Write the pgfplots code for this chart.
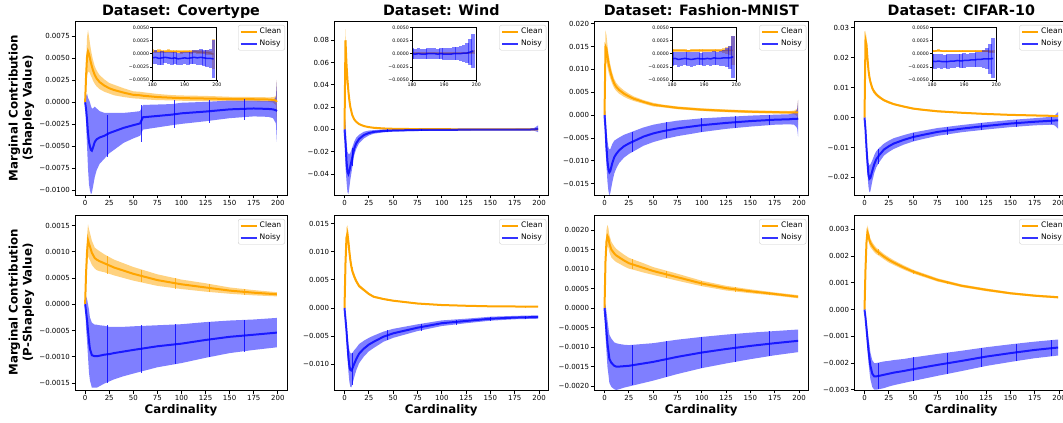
\documentclass[border=0pt]{standalone}
\usepackage{fontspec}
\setmainfont{DejaVu Sans}
\usepackage{pgfplots}
\usepackage{pgfplotstable}
\pgfplotsset{compat=1.18}
\usepgfplotslibrary{fillbetween}

\definecolor{corange}{HTML}{FFA500}
\definecolor{cblue}{HTML}{0000FF}

\newcommand{\tickfont}{\fontsize{7}{8}\selectfont}
\newcommand{\insfont}{\fontsize{4.7}{5.5}\selectfont}
\newcommand{\legfont}{\fontsize{7.6}{9}\selectfont}
\newcommand{\labfont}{\fontsize{11.8}{14}\selectfont\bfseries}
\newcommand{\titfont}{\fontsize{14.3}{16}\selectfont\bfseries}

% x  clean mean / err   noisy mean / err
\pgfplotstableread{
x cm ce nm ne
0 0 0 0 0
1 0.0030 0.0015 -0.0008 0.0015
2 0.0052 0.0022 -0.0020 0.0030
3 0.0058 0.0024 -0.0035 0.0040
4 0.0055 0.0020 -0.0045 0.0048
5 0.0050 0.0017 -0.0050 0.0050
6 0.0045 0.0015 -0.0054 0.0050
7 0.0041 0.0013 -0.0055 0.0048
8 0.0037 0.0012 -0.0052 0.0045
10 0.0031 0.0010 -0.0045 0.0040
12 0.0027 0.0009 -0.0042 0.0035
15 0.0023 0.0008 -0.0040 0.0030
20 0.0019 0.0007 -0.0038 0.0026
25 0.0016 0.0006 -0.0035 0.0023
30 0.0014 0.0006 -0.0033 0.0021
40 0.0011 0.0005 -0.0029 0.0017
50 0.00085 0.0004 -0.0026 0.0015
57 0.0008 0.0004 -0.0024 0.0014
60 0.00075 0.0004 -0.0017 0.0014
75 0.0006 0.00035 -0.00155 0.0013
90 0.00052 0.0003 -0.0014 0.0012
100 0.00048 0.0003 -0.00125 0.0012
125 0.00043 0.0003 -0.00105 0.0011
150 0.00038 0.00025 -0.0008 0.0010
175 0.00035 0.00025 -0.0007 0.0009
190 0.00032 0.00025 -0.00075 0.0009
195 0.00028 0.0003 -0.0008 0.0010
198 0.0002 0.0005 -0.0009 0.0015
199 0.00005 0.0025 -0.0010 0.0035
}\tCa

\pgfplotstableread{
x cm ce nm ne
180 0.0005 0.0003 -0.0008 0.0012
181 0.0004 0.0003 -0.0007 0.0013
182 0.0005 0.0003 -0.0009 0.0012
183 0.0004 0.0003 -0.0008 0.0013
184 0.0004 0.0002 -0.0007 0.0011
185 0.0005 0.0003 -0.0008 0.0012
186 0.0004 0.0003 -0.0009 0.0013
187 0.0004 0.0002 -0.0008 0.0012
188 0.0004 0.0003 -0.0010 0.0012
189 0.0003 0.0003 -0.0009 0.0013
190 0.0004 0.0003 -0.0008 0.0012
191 0.0004 0.0003 -0.0009 0.0013
192 0.0003 0.0003 -0.0008 0.0012
193 0.0004 0.0003 -0.0007 0.0013
194 0.0003 0.0003 -0.0008 0.0014
195 0.0003 0.0004 -0.0007 0.0015
196 0.0002 0.0003 -0.0008 0.0015
197 0.0002 0.0004 -0.0009 0.0016
198 0.0001 0.0004 -0.0009 0.0018
199 -0.0001 0.0028 -0.0010 0.0036
}\tCai

\pgfplotstableread{
x cm ce nm ne
0 0 0 0 0
1 0.080 0.010 -0.012 0.021
2 0.059 0.006 -0.028 0.018
3 0.045 0.004 -0.038 0.018
4 0.034 0.003 -0.040 0.018
5 0.026 0.002 -0.037 0.015
6 0.020 0.0015 -0.033 0.012
8 0.0128 0.001 -0.025 0.009
10 0.0090 0.0008 -0.017 0.006
12 0.0069 0.0006 -0.0125 0.005
15 0.0048 0.0005 -0.0085 0.0038
20 0.0030 0.0004 -0.0050 0.003
25 0.0021 0.0003 -0.0032 0.0022
30 0.0015 0.0003 -0.0022 0.0016
40 0.0009 0.0002 -0.0013 0.0013
50 0.0006 0.0002 -0.0009 0.0011
75 0.0003 0.0002 -0.0005 0.0008
100 0.0002 0.0002 -0.0003 0.0007
150 0.0001 0.0001 -0.0002 0.0007
190 0.0001 0.0001 -0.0001 0.0008
195 0.0001 0.0001 0.0001 0.0012
199 0.0001 0.0002 0.0006 0.0030
}\tWa

\pgfplotstableread{
x cm ce nm ne
180 0.0001 0.0001 0.0000 0.0010
181 0.0001 0.0001 -0.0001 0.0010
182 0.0001 0.0001 0.0000 0.0010
183 0.0001 0.0001 -0.0001 0.0010
184 0.0001 0.0001 -0.0001 0.0009
185 0.0001 0.0001 0.0000 0.0010
186 0.0001 0.0001 0.0000 0.0011
187 0.0001 0.0001 0.0000 0.0010
188 0.0001 0.0001 -0.0001 0.0010
189 0.0001 0.0001 0.0000 0.0011
190 0.0001 0.0001 -0.0001 0.0012
191 0.0001 0.0001 -0.0001 0.0011
192 0.0001 0.0001 -0.0001 0.0012
193 0.0001 0.0001 0.0000 0.0012
194 0.0001 0.0001 0.0000 0.0013
195 0.0001 0.0001 0.0000 0.0014
196 0.0001 0.0001 0.0001 0.0016
197 0.0001 0.0001 0.0001 0.0019
198 0.0002 0.0002 0.0003 0.0025
199 0.0003 0.0003 0.0005 0.0032
}\tWai

\pgfplotstableread{
x cm ce nm ne
0 0 0 0 0
1 0.0150 0.0035 -0.0030 0.0040
2 0.0145 0.0030 -0.0070 0.0040
3 0.0130 0.0025 -0.0100 0.0045
4 0.0115 0.0020 -0.0118 0.0048
5 0.0105 0.0018 -0.0125 0.0050
6 0.0095 0.0015 -0.0122 0.0048
8 0.0080 0.0012 -0.0105 0.0042
10 0.0069 0.0010 -0.0092 0.0036
12 0.0062 0.0009 -0.0085 0.0032
15 0.0055 0.0008 -0.0077 0.0028
20 0.0047 0.0007 -0.0068 0.0025
25 0.0041 0.0006 -0.0062 0.0023
30 0.0036 0.0005 -0.0057 0.0022
40 0.0029 0.0004 -0.0047 0.0020
50 0.0023 0.0004 -0.0040 0.0019
60 0.0020 0.0003 -0.0035 0.0018
75 0.0016 0.0003 -0.0029 0.0017
100 0.0012 0.0003 -0.0022 0.0015
125 0.00095 0.0003 -0.0017 0.0013
150 0.00075 0.0003 -0.0013 0.0012
175 0.00065 0.0003 -0.0010 0.0011
190 0.0006 0.0003 -0.0009 0.0011
195 0.0006 0.0004 -0.0008 0.0013
198 0.0006 0.0008 -0.0008 0.0020
199 0.0006 0.0028 -0.0007 0.0040
}\tFa

\pgfplotstableread{
x cm ce nm ne
180 0.0006 0.0002 -0.0010 0.0013
181 0.0006 0.0002 -0.0009 0.0013
182 0.0006 0.0002 -0.0011 0.0014
183 0.0006 0.0002 -0.0010 0.0013
184 0.0006 0.0002 -0.0009 0.0012
185 0.0005 0.0002 -0.0010 0.0013
186 0.0006 0.0002 -0.0011 0.0014
187 0.0006 0.0002 -0.0010 0.0013
188 0.0006 0.0002 -0.0009 0.0013
189 0.0006 0.0002 -0.0010 0.0012
190 0.0006 0.0002 -0.0010 0.0013
191 0.0006 0.0002 -0.0009 0.0013
192 0.0006 0.0002 -0.0010 0.0014
193 0.0006 0.0003 -0.0008 0.0013
194 0.0006 0.0003 -0.0009 0.0013
195 0.0006 0.0003 -0.0009 0.0014
196 0.0006 0.0004 -0.0008 0.0015
197 0.0006 0.0006 -0.0008 0.0018
198 0.0006 0.0008 -0.0008 0.0022
199 0.0006 0.0028 -0.0006 0.0040
}\tFai

\pgfplotstableread{
x cm ce nm ne
0 0 0 0 0
1 0.0260 0.0030 -0.0040 0.0030
2 0.0245 0.0025 -0.0100 0.0030
3 0.0200 0.0020 -0.0150 0.0035
4 0.0160 0.0015 -0.0190 0.0040
5 0.0136 0.0012 -0.0205 0.0045
6 0.0120 0.0010 -0.0202 0.0045
8 0.0098 0.0008 -0.0178 0.0035
10 0.0086 0.0007 -0.0156 0.0030
12 0.0078 0.0006 -0.0140 0.0027
15 0.0069 0.0005 -0.0126 0.0024
20 0.0058 0.0004 -0.0107 0.0020
25 0.0051 0.0004 -0.0096 0.0019
30 0.0045 0.0003 -0.0087 0.0018
40 0.0037 0.0003 -0.0075 0.0016
50 0.0030 0.0003 -0.0065 0.0015
60 0.0026 0.0003 -0.0058 0.0014
75 0.0021 0.0003 -0.0048 0.0013
100 0.0016 0.0002 -0.0037 0.0012
125 0.0012 0.0002 -0.0028 0.0012
150 0.0009 0.0002 -0.0020 0.0012
175 0.0007 0.0002 -0.0014 0.0012
190 0.0006 0.0002 -0.0011 0.0013
195 0.0005 0.0002 -0.0010 0.0015
199 0.0005 0.0003 -0.0009 0.0028
}\tRa

\pgfplotstableread{
x cm ce nm ne
180 0.0005 0.0002 -0.0014 0.0013
181 0.0005 0.0002 -0.0015 0.0014
182 0.0006 0.0002 -0.0014 0.0013
183 0.0005 0.0002 -0.0015 0.0014
184 0.0005 0.0002 -0.0015 0.0013
185 0.0005 0.0002 -0.0015 0.0014
186 0.0005 0.0002 -0.0014 0.0013
187 0.0005 0.0002 -0.0014 0.0014
188 0.0005 0.0002 -0.0013 0.0013
189 0.0005 0.0002 -0.0014 0.0013
190 0.0005 0.0002 -0.0013 0.0014
191 0.0005 0.0002 -0.0013 0.0013
192 0.0005 0.0002 -0.0012 0.0014
193 0.0005 0.0002 -0.0012 0.0013
194 0.0005 0.0002 -0.0011 0.0014
195 0.0005 0.0002 -0.0011 0.0015
196 0.0005 0.0002 -0.0010 0.0017
197 0.0005 0.0002 -0.0010 0.0020
198 0.0004 0.0003 -0.0010 0.0028
199 0.0004 0.0003 -0.0009 0.0038
}\tRai

\pgfplotstableread{
x cm ce nm ne
0 0 0 0 0
1 0.0006 0.0002 -0.00015 0.0003
2 0.0010 0.0003 -0.0003 0.0004
3 0.00122 0.0003 -0.0005 0.0005
4 0.00115 0.00028 -0.0007 0.0006
5 0.0011 0.00026 -0.00085 0.0006
7 0.00098 0.00023 -0.00097 0.00062
10 0.00088 0.0002 -0.00099 0.0006
12 0.00085 0.0002 -0.00099 0.0006
15 0.00082 0.00019 -0.00098 0.00058
20 0.00078 0.00017 -0.00096 0.00055
25 0.00074 0.00016 -0.00095 0.00052
30 0.0007 0.00015 -0.00093 0.0005
40 0.00064 0.00014 -0.0009 0.00047
50 0.00058 0.00013 -0.00087 0.00045
75 0.00046 0.00011 -0.0008 0.0004
100 0.00038 0.00009 -0.00075 0.00037
125 0.00032 0.00008 -0.00068 0.00034
150 0.00026 0.00006 -0.00062 0.00031
175 0.00022 0.00005 -0.00058 0.00029
199 0.00019 0.00004 -0.00054 0.00028
}\tCb

\pgfplotstableread{
x cm ce nm ne
0 0 0 0 0
1 0.0080 0.0020 -0.0020 0.0010
2 0.0125 0.0018 -0.0040 0.0015
3 0.0132 0.0015 -0.0065 0.0020
4 0.0118 0.0012 -0.0088 0.0025
5 0.0100 0.0010 -0.0103 0.0028
6 0.0085 0.0008 -0.0110 0.0030
7 0.0074 0.0007 -0.0111 0.0030
8 0.0066 0.0006 -0.0108 0.0028
10 0.0056 0.0005 -0.0099 0.0024
12 0.0048 0.0004 -0.0091 0.0020
15 0.0039 0.0003 -0.0081 0.0017
20 0.0032 0.00025 -0.0072 0.0014
25 0.0025 0.0002 -0.0065 0.0012
30 0.0020 0.00018 -0.0060 0.0011
40 0.0016 0.00015 -0.0051 0.0009
50 0.0013 0.00012 -0.0045 0.0008
75 0.0008 0.0001 -0.0035 0.0006
100 0.00053 0.00008 -0.0027 0.0005
125 0.0004 0.00006 -0.0023 0.0004
150 0.0003 0.00005 -0.0019 0.00035
175 0.00027 0.00005 -0.0017 0.0003
199 0.00024 0.00004 -0.0016 0.0003
}\tWb

\pgfplotstableread{
x cm ce nm ne
0 0 0 0 0
1 0.0012 0.0003 -0.0003 0.0004
2 0.0017 0.0003 -0.0006 0.0005
3 0.00185 0.00028 -0.0009 0.0006
4 0.0018 0.00025 -0.0011 0.0006
5 0.00165 0.00022 -0.0013 0.00062
7 0.0015 0.0002 -0.0014 0.00062
10 0.0014 0.00018 -0.00148 0.0006
12 0.00135 0.00017 -0.0015 0.0006
15 0.0013 0.00016 -0.0015 0.00058
20 0.00122 0.00015 -0.00149 0.00055
25 0.00115 0.00014 -0.00148 0.00053
30 0.00111 0.00013 -0.00146 0.00052
40 0.00103 0.00012 -0.00142 0.0005
50 0.00095 0.0001 -0.00138 0.00048
75 0.00079 0.00009 -0.00125 0.00044
100 0.00063 0.00007 -0.00114 0.0004
125 0.00051 0.00006 -0.00105 0.00037
150 0.00043 0.00005 -0.00097 0.00034
175 0.00036 0.00004 -0.0009 0.00031
199 0.00029 0.00004 -0.00084 0.00029
}\tFb

\pgfplotstableread{
x cm ce nm ne
0 0 0 0 0
1 0.0015 0.0003 -0.0003 0.0002
2 0.0025 0.0003 -0.0007 0.0003
3 0.0029 0.00025 -0.0011 0.0004
4 0.0028 0.0002 -0.0015 0.00045
5 0.0026 0.00018 -0.0018 0.0005
6 0.0025 0.00016 -0.0021 0.0005
8 0.00238 0.00014 -0.0024 0.0005
10 0.00228 0.00013 -0.0025 0.0005
12 0.0022 0.00012 -0.0025 0.0005
15 0.00212 0.00011 -0.00248 0.0005
20 0.00198 0.0001 -0.00244 0.0005
25 0.00186 0.0001 -0.0024 0.00048
30 0.00176 0.00009 -0.00236 0.00047
40 0.00158 0.00008 -0.0023 0.00045
50 0.00142 0.00007 -0.00223 0.00044
75 0.00111 0.00006 -0.00207 0.00041
100 0.00089 0.00005 -0.00192 0.00038
125 0.00074 0.00005 -0.00176 0.00035
150 0.00061 0.00004 -0.00163 0.00033
175 0.00052 0.00004 -0.00151 0.00031
199 0.00046 0.00004 -0.00142 0.0003
}\tRb

% bands + mean lines of one panel
\newcommand{\series}[2]{%
  \addplot[name path=#2cu, draw=none, forget plot] table[x=x, y expr=\thisrow{cm}+\thisrow{ce}] {#1};
  \addplot[name path=#2cl, draw=none, forget plot] table[x=x, y expr=\thisrow{cm}-\thisrow{ce}] {#1};
  \addplot[fill=corange, fill opacity=0.5, draw=none, forget plot] fill between[of=#2cu and #2cl];
  \addplot[corange, line width=2pt] table[x=x, y=cm] {#1};
  \addplot[name path=#2nu, draw=none, forget plot] table[x=x, y expr=\thisrow{nm}+\thisrow{ne}] {#1};
  \addplot[name path=#2nl, draw=none, forget plot] table[x=x, y expr=\thisrow{nm}-\thisrow{ne}] {#1};
  \addplot[fill=cblue, fill opacity=0.5, draw=none, forget plot] fill between[of=#2nu and #2nl];
  \addplot[cblue, opacity=0.8, line width=2pt] table[x=x, y=nm] {#1};
}
% inset: one wide error stroke per cardinality
\newcommand{\insseries}[1]{%
  \addplot[draw=none, mark=none, forget plot, error bars/.cd, y dir=both, y explicit,
    error mark=none, error bar style={draw=corange, opacity=0.5, line width=3.6pt}]
    table[x=x, y=cm, y error=ce] {#1};
  \addplot[corange, line width=1.5pt] table[x=x, y=cm] {#1};
  \addplot[draw=none, mark=none, forget plot, error bars/.cd, y dir=both, y explicit,
    error mark=none, error bar style={draw=cblue, opacity=0.5, line width=3.6pt}]
    table[x=x, y=nm, y error=ne] {#1};
  \addplot[cblue, opacity=0.8, line width=1.5pt] table[x=x, y=nm] {#1};
}
% sparse error bar strokes
\newcommand{\ebars}[2]{%
  \addplot[draw=none, mark=none, forget plot, error bars/.cd, y dir=both, y explicit,
    error mark=none, error bar style={draw=#1, opacity=0.8, line width=0.8pt}] coordinates {#2};
}

\pgfplotsset{
  mainax/.style={
    scale only axis, width=#1,
    xmin=-10.5, xmax=209.5, xtick={0,25,50,75,100,125,150,175,200},
    tick align=outside, xtick pos=bottom, ytick pos=left,
    major tick length=3.5pt,
    every tick/.style={black, line width=0.8pt},
    axis line style={black, line width=0.9pt},
    tick label style={font=\tickfont},
    xticklabel style={inner sep=1.5pt},
    yticklabel style={inner sep=1.5pt},
    scaled y ticks=false, scaled x ticks=false,
    /pgf/number format/assume math mode=true,
    axis on top,
    title style={font=\titfont, anchor=base, yshift=-1pt},
    ylabel style={font=\labfont, align=center, at={(axis description cs:-0.2524,0.5)}, anchor=center},
    xlabel style={font=\labfont, at={(axis description cs:0.5,-0.135)}, anchor=base},
    legend entries={Clean,Noisy},
    legend cell align=left,
    legend image code/.code={\draw[##1] (0pt,0pt) -- (16pt,0pt);},
    legend style={at={(1,1)}, anchor=north east, xshift=-2pt, yshift=-4pt,
      font=\legfont, draw=black!20, rounded corners=2pt, fill=white,
      inner xsep=1.5pt, inner ysep=1pt, row sep=0.5pt},
  },
  insax/.style={
    scale only axis, width=64.4pt, height=52.7pt,
    xmin=180, xmax=200, ymin=-0.005, ymax=0.005,
    xtick={180,190,200},
    ytick={-0.005,-0.0025,0,0.0025,0.005},
    yticklabels={−0.0050,−0.0025,0.0000,0.0025,0.0050},
    tick align=outside, xtick pos=bottom, ytick pos=left,
    major tick length=2pt,
    every tick/.style={black, line width=0.6pt},
    axis line style={black, line width=0.7pt},
    tick label style={font=\insfont, inner sep=1pt},
    scaled y ticks=false,
    /pgf/number format/assume math mode=true,
    axis on top,
    axis background/.style={fill=white},
  },
}

\begin{document}
\begin{tikzpicture}

% ---------------- top row: Shapley value ----------------
\begin{axis}[mainax=212pt, height=174pt, at={(75pt,402pt)}, anchor=north west,
  title={Dataset: Covertype},
  ylabel={Marginal Contribution\\(Shapley Value)},
  ymin=-0.01053, ymax=0.00924,
  ytick={-0.01,-0.0075,-0.005,-0.0025,0,0.0025,0.005,0.0075},
  yticklabels={−0.0100,−0.0075,−0.0050,−0.0025,0.0000,0.0025,0.0050,0.0075}]
\series{\tCa}{ca}
\ebars{cblue}{(23,-0.0038) +- (0,0.0024) (58,-0.0024) +- (0,0.0021) (93,-0.0013) +- (0,0.0016) (129,-0.0010) +- (0,0.0013) (165,-0.0008) +- (0,0.0012)}
\end{axis}
\begin{axis}[insax, at={(152.4pt,395.7pt)}, anchor=north west]
\insseries{\tCai}
\end{axis}

\begin{axis}[mainax=214pt, height=174pt, at={(334.3pt,402pt)}, anchor=north west,
  title={Dataset: Wind},
  ymin=-0.0588, ymax=0.0973,
  ytick={-0.04,-0.02,0,0.02,0.04,0.06,0.08},
  yticklabels={−0.04,−0.02,0.00,0.02,0.04,0.06,0.08}]
\series{\tWa}{wa}
\ebars{cblue}{(8,-0.025) +- (0,0.008) (44,-0.0011) +- (0,0.0013) (79,-0.0005) +- (0,0.0008)}
\end{axis}
\begin{axis}[insax, at={(412.0pt,395.7pt)}, anchor=north west]
\insseries{\tWai}
\end{axis}

\begin{axis}[mainax=214pt, height=174pt, at={(594.3pt,402pt)}, anchor=north west,
  title={Dataset: Fashion-MNIST},
  ymin=-0.01747, ymax=0.0206,
  ytick={-0.015,-0.01,-0.005,0,0.005,0.01,0.015,0.02},
  yticklabels={−0.015,−0.010,−0.005,0.000,0.005,0.010,0.015,0.020}]
\series{\tFa}{fa}
\ebars{cblue}{(29,-0.0058) +- (0,0.0022) (64,-0.0033) +- (0,0.0018) (100,-0.0022) +- (0,0.0015) (135,-0.0015) +- (0,0.0013) (170,-0.0010) +- (0,0.0011)}
\end{axis}
\begin{axis}[insax, at={(672.0pt,395.7pt)}, anchor=north west]
\insseries{\tFai}
\end{axis}

\begin{axis}[mainax=214pt, height=174pt, at={(854.3pt,402pt)}, anchor=north west,
  title={Dataset: CIFAR-10},
  ymin=-0.0259, ymax=0.0323,
  ytick={-0.02,-0.01,0,0.01,0.02,0.03},
  yticklabels={−0.02,−0.01,0.00,0.01,0.02,0.03}]
\series{\tRa}{ra}
\ebars{cblue}{(14,-0.013) +- (0,0.0025) (50,-0.0065) +- (0,0.0015) (85,-0.0044) +- (0,0.0013) (120,-0.0030) +- (0,0.0012) (156,-0.0019) +- (0,0.0012) (192,-0.0010) +- (0,0.0013)}
\end{axis}
\begin{axis}[insax, at={(932.0pt,395.7pt)}, anchor=north west]
\insseries{\tRai}
\end{axis}

% ---------------- bottom row: P-Shapley value ----------------
\begin{axis}[mainax=212pt, height=175pt, at={(75pt,208pt)}, anchor=north west,
  xlabel={Cardinality},
  ylabel={Marginal Contribution\\(P-Shapley Value)},
  ymin=-0.001633, ymax=0.0017,
  ytick={-0.0015,-0.001,-0.0005,0,0.0005,0.001,0.0015},
  yticklabels={−0.0015,−0.0010,−0.0005,0.0000,0.0005,0.0010,0.0015}]
\series{\tCb}{cb}
\ebars{corange}{(23,0.00075) +- (0,0.00017) (58,0.00054) +- (0,0.00012) (94,0.0004) +- (0,0.0001) (129,0.00031) +- (0,0.00008) (165,0.00024) +- (0,0.00006)}
\ebars{cblue}{(23,-0.00095) +- (0,0.00055) (58,-0.00085) +- (0,0.00045) (94,-0.00076) +- (0,0.00038) (129,-0.00067) +- (0,0.00034) (165,-0.0006) +- (0,0.0003)}
\end{axis}

\begin{axis}[mainax=214pt, height=175pt, at={(334.3pt,208pt)}, anchor=north west,
  xlabel={Cardinality},
  ymin=-0.01457, ymax=0.01653,
  ytick={-0.01,-0.005,0,0.005,0.01,0.015},
  yticklabels={−0.010,−0.005,0.000,0.005,0.010,0.015}]
\series{\tWb}{wb}
\ebars{corange}{(8,0.0066) +- (0,0.0006) (44,0.0015) +- (0,0.00015) (79,0.00075) +- (0,0.0001) (115,0.00045) +- (0,0.00007) (150,0.0003) +- (0,0.00005) (186,0.00025) +- (0,0.00004)}
\ebars{cblue}{(8,-0.0108) +- (0,0.0028) (44,-0.0048) +- (0,0.0009) (79,-0.0034) +- (0,0.0006) (115,-0.0025) +- (0,0.00045) (150,-0.0019) +- (0,0.00035) (186,-0.00165) +- (0,0.0003)}
\end{axis}

\begin{axis}[mainax=214pt, height=175pt, at={(594.3pt,208pt)}, anchor=north west,
  xlabel={Cardinality},
  ymin=-0.0021, ymax=0.002385,
  ytick={-0.002,-0.0015,-0.001,-0.0005,0,0.0005,0.001,0.0015,0.002},
  yticklabels={−0.0020,−0.0015,−0.0010,−0.0005,0.0000,0.0005,0.0010,0.0015,0.0020}]
\series{\tFb}{fb}
\ebars{corange}{(29,0.00112) +- (0,0.00013) (64,0.00086) +- (0,0.0001) (100,0.00063) +- (0,0.00007) (135,0.00048) +- (0,0.00006) (170,0.00037) +- (0,0.00004)}
\ebars{cblue}{(29,-0.00146) +- (0,0.00052) (64,-0.0013) +- (0,0.00046) (100,-0.00114) +- (0,0.0004) (135,-0.00102) +- (0,0.00036) (170,-0.00092) +- (0,0.00032)}
\end{axis}

\begin{axis}[mainax=214pt, height=175pt, at={(854.3pt,208pt)}, anchor=north west,
  xlabel={Cardinality},
  ymin=-0.00301, ymax=0.00354,
  ytick={-0.003,-0.002,-0.001,0,0.001,0.002,0.003},
  yticklabels={−0.003,−0.002,−0.001,0.000,0.001,0.002,0.003}]
\series{\tRb}{rb}
\ebars{corange}{(14,0.00214) +- (0,0.00011) (50,0.00142) +- (0,0.00007) (85,0.00102) +- (0,0.00006) (120,0.00077) +- (0,0.00005) (156,0.00059) +- (0,0.00004) (192,0.00048) +- (0,0.00004)}
\ebars{cblue}{(14,-0.00249) +- (0,0.0005) (50,-0.00223) +- (0,0.00044) (85,-0.00201) +- (0,0.0004) (120,-0.00179) +- (0,0.00036) (156,-0.0016) +- (0,0.00033) (192,-0.00144) +- (0,0.0003)}
\end{axis}

\pgfresetboundingbox
\useasboundingbox (0pt,0pt) rectangle (1063pt,423pt);
\end{tikzpicture}
\end{document}
